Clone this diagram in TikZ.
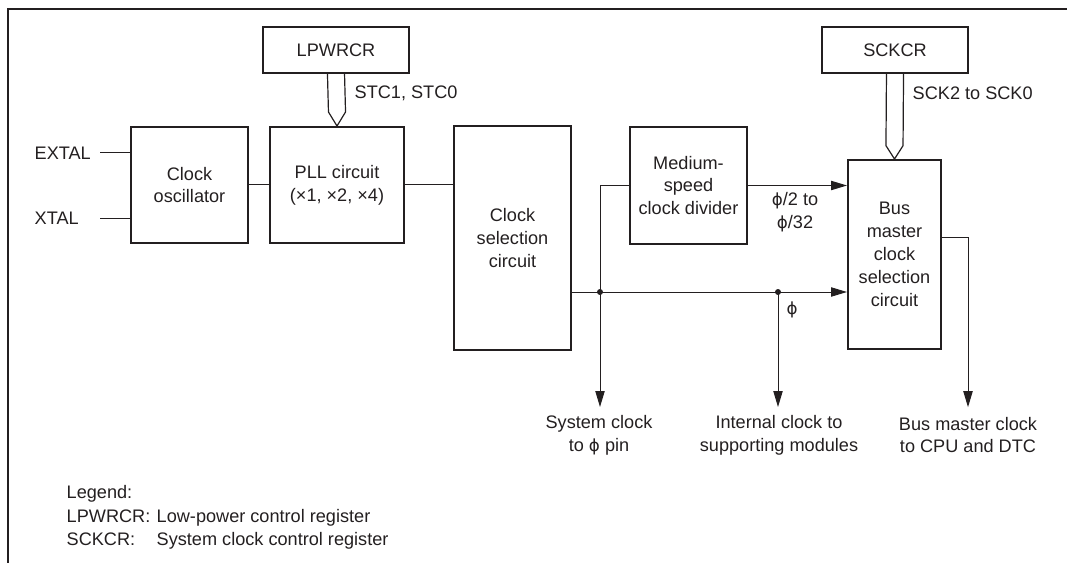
\documentclass[tikz,border=0pt]{standalone}
\usepackage{fontspec}
\setmainfont{Liberation Sans}
\newfontfamily\phifont{DejaVu Sans}
\newcommand{\phisym}{{\phifont\fontsize{12.5}{15}\selectfont ϕ}}
\usetikzlibrary{arrows.meta}
\definecolor{ink}{RGB}{35,31,32}
\begin{document}
\begin{tikzpicture}[x=0.75pt, y=-0.75pt, >={Triangle[length=12pt, width=7pt]},
  every node/.style={font=\fontsize{13.6}{17.2}\selectfont, text=ink},
  blk/.style={draw=ink, line width=1.5pt, inner sep=0pt, align=center},
  wire/.style={draw=ink, line width=0.75pt},
  hollow/.style={draw=ink, line width=0.9pt, line join=miter},
  dot/.style={circle, fill=ink, inner sep=0pt, minimum size=4.5pt}]
  \useasboundingbox (0,0) rectangle (1067,563);
  \draw[ink, line width=1.5pt] (8,563) -- (8,9) -- (1067,9);
  % registers
  \node[blk, minimum width=109.5pt, minimum height=34.5pt] (lpwrcr) at (336,50) {LPWRCR};
  \node[blk, minimum width=109.5pt, minimum height=34.5pt] (sckcr) at (895,50) {SCKCR};
  % blocks
  \node[blk, minimum width=87.75pt, minimum height=87pt] (osc) at (189.5,185) {Clock\\oscillator};
  \node[blk, minimum width=100.5pt, minimum height=87pt] (pll) at (337,185) {PLL circuit\\(×1, ×2, ×4)};
  \node[blk, minimum width=87.75pt, minimum height=168pt] (clksel) at (512.5,238) {Clock\\selection\\circuit};
  \node[blk, minimum width=87.75pt, minimum height=87.75pt] (divider) at (688.5,185.5) {Medium-\\speed\\clock divider};
  \node[blk, minimum width=69.75pt, minimum height=141.75pt] (busmst) at (894.5,254.5) {Bus\\master\\clock\\selection\\circuit};
  % register buses
  \draw[hollow] ([xshift=-6.4pt]lpwrcr.south) -- ([xshift=-6.4pt, yshift=10.5pt]pll.north)
    -- (pll.north) -- ([xshift=6.4pt, yshift=10.5pt]pll.north) -- ([xshift=6.4pt]lpwrcr.south);
  \draw[hollow] ([xshift=-6.4pt]sckcr.south) -- ([xshift=-6.4pt, yshift=10pt]busmst.north)
    -- (busmst.north) -- ([xshift=6.4pt, yshift=10pt]busmst.north) -- ([xshift=6.4pt]sckcr.south);
  \node[anchor=west] (stclbl) at (350,93) {STC1, STC0};
  \node[anchor=west] (scklbl) at (908,93) {SCK2 to SCK0};
  % inputs
  \node[anchor=west] (extal) at (30,153) {EXTAL};
  \node[anchor=west] (xtal) at (30,218) {XTAL};
  \coordinate (extalin) at (100,153);
  \coordinate (xtalin) at (100,218);
  \draw[wire] (extalin) -- (extalin -| osc.west);
  \draw[wire] (xtalin) -- (xtalin -| osc.west);
  \draw[wire] (osc) -- (pll);
  \draw[wire] (pll.east) -- (pll.east -| clksel.west);
  % clock distribution
  \node[dot] (jsys) at (600,292) {};
  \node[dot] (jint) at (778,292) {};
  \draw[wire, ->] (jsys -| clksel.east) -- (jsys -| busmst.west);
  \draw[wire] (jsys.center) -- (jsys.center |- divider.west) -- (divider.west);
  \draw[wire, ->] (divider.east) -- (divider.east -| busmst.west);
  \node[align=center] (divlbl) at (795,212) {\phisym/2 to\\\phisym/32};
  \node (philbl) at (792,310) {\phisym};
  % outputs
  \draw[wire, ->] (jsys.center) -- ++(0,115);
  \draw[wire, ->] (jint.center) -- ++(0,115);
  \draw[wire, ->] ([yshift=13pt]busmst.east) -- ++(26,0) -- ++(0,170);
  \node[align=center] (sysclk) at (599,435) {System clock\\to \phisym\ pin};
  \node[align=center] (intclk) at (779,435) {Internal clock to\\supporting modules};
  \node[align=center] (busclk) at (968,435) {Bus master clock\\to CPU and DTC};
  % legend
  \node[anchor=base west] (legend) at (62,498) {Legend:};
  \node[anchor=base west] (lgabbr1) at (62,522.5) {LPWRCR:};
  \node[anchor=base west] (lgtext1) at (152,522.5) {Low-power control register};
  \node[anchor=base west] (lgabbr2) at (62,545) {SCKCR:};
  \node[anchor=base west] (lgtext2) at (152,545) {System clock control register};
\end{tikzpicture}
\end{document}
